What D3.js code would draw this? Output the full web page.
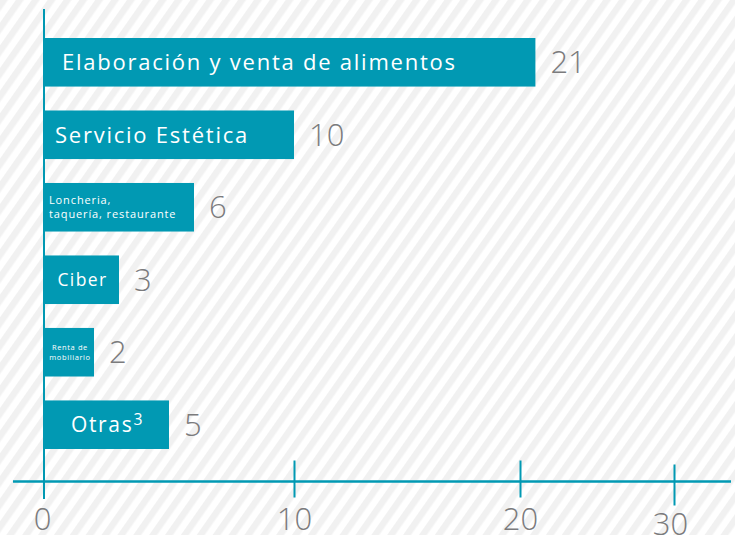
<html>
<head>
<meta charset="utf-8">
<script src="https://d3js.org/d3.v7.min.js"></script>
<style>
body { margin: 0; background: #fff; }
svg { display: block; }
</style>
</head>
<body>
<div id="chart"></div>
<script>
// data
var categories = ["Elaboración y venta de alimentos", "Servicio Estética", "Loncheria, taquería, restaurante",
                  "Ciber", "Renta de mobiliario", "Otras"];
var labelLines = [["Elaboración y venta de alimentos"], ["Servicio Estética"], ["Loncheria,", "taquería, restaurante"],
                  ["Ciber"], ["Renta de", "mobiliario"], ["Otras"]];
var footnotes = ["", "", "", "", "", "3"];
var values = [21, 10, 6, 3, 2, 5];
var tickValues = [0, 10, 20, 30];

// how each label sits in its bar (style only)
var labelStyle = [
  {size: 22, anchor: "start", pad: 18},
  {size: 22, anchor: "start", pad: 11},
  {size: 11, anchor: "start", pad: 5},
  {size: 17.5, anchor: "middle"},
  {size: 7.5, anchor: "middle"},
  {size: 21, anchor: "middle"}
];

var W = 735, H = 535;
var teal = "#0199b3", grey = "#7b7b7d";
var font = "'Open Sans', 'DejaVu Sans', sans-serif";

var svg = d3.select("#chart").append("svg").attr("width", W).attr("height", H);

// striped background
var defs = svg.append("defs");
var pat = defs.append("pattern")
    .attr("id", "stripes").attr("patternUnits", "userSpaceOnUse")
    .attr("width", 13).attr("height", 13)
    .attr("patternTransform", "rotate(35)");
pat.append("rect").attr("width", 13).attr("height", 13).attr("fill", "#fff");
pat.append("rect").attr("width", 6.5).attr("height", 13).attr("fill", "#f1f1f1");
svg.append("rect").attr("width", W).attr("height", H).attr("fill", "url(#stripes)");

// the axis in the picture is not evenly spaced, so the scale follows it
var x = d3.scaleLinear().domain(tickValues).range([44, 294, 520, 674]);
var y = d3.scaleBand().domain(categories).range([38, 449]).paddingInner(0.33).paddingOuter(0);

var axisY = 481.5;

// vertical axis line
svg.append("line")
    .attr("x1", x(0)).attr("x2", x(0)).attr("y1", 9).attr("y2", 499)
    .attr("stroke", teal).attr("stroke-width", 2);

// bars
svg.selectAll(".bar").data(values).enter().append("rect")
    .attr("class", "bar")
    .attr("x", x(0))
    .attr("y", function(d, i) { return y(categories[i]); })
    .attr("width", function(d) { return x(d) - x(0); })
    .attr("height", y.bandwidth())
    .attr("fill", teal);

// labels inside bars
var lab = svg.selectAll(".lab").data(values).enter().append("text")
    .attr("class", "lab")
    .attr("fill", "#fff")
    .style("font-family", font)
    .style("letter-spacing", "0.08em")
    .style("font-size", function(d, i) { return labelStyle[i].size + "px"; })
    .attr("text-anchor", function(d, i) { return labelStyle[i].anchor; });

lab.each(function(d, i) {
  var s = labelStyle[i];
  var lines = labelLines[i];
  var tx = s.anchor == "middle" ? (x(0) + x(d)) / 2 + 1 : x(0) + s.pad;
  var cy = y(categories[i]) + y.bandwidth() / 2;
  var lh = s.size * 1.25;
  var t = d3.select(this);
  lines.forEach(function(line, j) {
    t.append("tspan")
        .attr("x", tx)
        .attr("y", cy + (j - (lines.length - 1) / 2) * lh)
        .attr("dy", "0.36em")
        .text(line);
  });
  if (footnotes[i]) {
    t.append("tspan").style("font-size", (s.size * 0.75) + "px")
        .attr("baseline-shift", "45%").text(footnotes[i]);
  }
});

// value labels
svg.selectAll(".val").data(values).enter().append("text")
    .attr("class", "val")
    .attr("x", function(d) { return x(d) + 15; })
    .attr("y", function(d, i) { return y(categories[i]) + y.bandwidth() / 2; })
    .attr("dy", "0.36em")
    .attr("fill", grey)
    .style("font-family", font).style("font-weight", 300).style("font-size", "31px")
    .text(function(d) { return d; });

// horizontal axis
var xAxis = svg.append("g")
    .attr("transform", "translate(0," + axisY + ")")
    .call(d3.axisBottom(x).tickValues(tickValues).tickSize(0).tickPadding(0));
xAxis.select(".domain").remove();
xAxis.append("line")
    .attr("x1", 13).attr("x2", 731)
    .attr("stroke", teal).attr("stroke-width", 2.5);
xAxis.selectAll(".tick line")
    .attr("y1", function(d) { return d == 0 ? 0 : (d == 30 ? -17 : -21); })
    .attr("y2", function(d) { return d == 0 ? 0 : (d == 30 ? 24 : 16); })
    .attr("stroke", teal).attr("stroke-width", 2);
xAxis.selectAll(".tick text")
    .attr("y", function(d) { return d == 30 ? 53 : 48; })
    .attr("dx", function(d) { return d == 30 ? -4 : (d == 0 ? -2 : 0); })
    .attr("dy", 0)
    .attr("fill", grey)
    .style("font-family", font).style("font-weight", 300).style("font-size", "31px");
</script>
</body>
</html>
